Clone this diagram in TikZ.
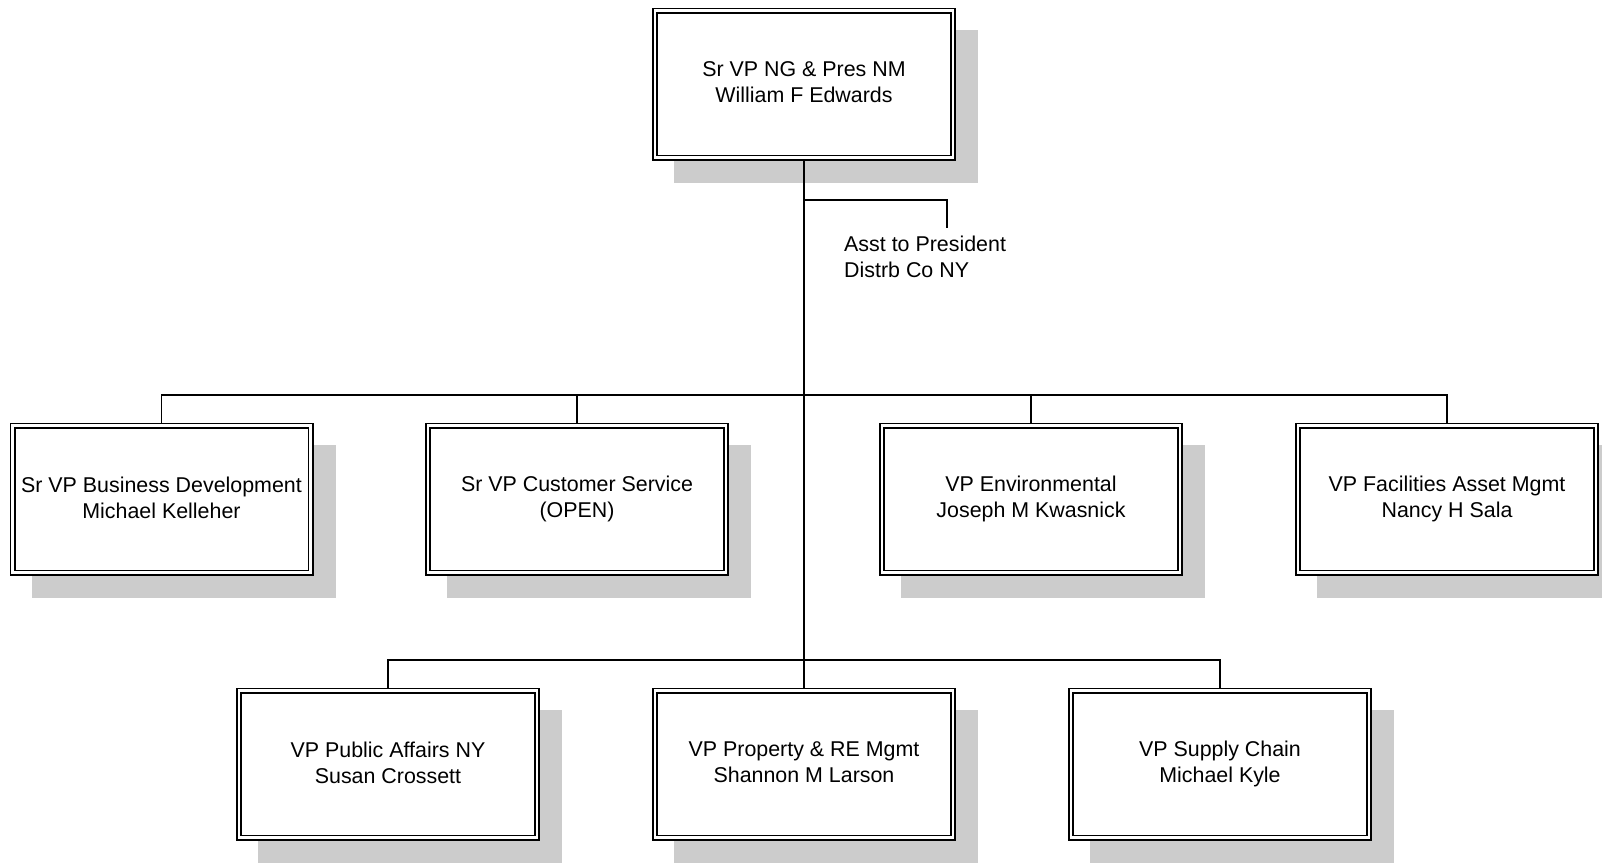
\documentclass[tikz,border=0pt]{standalone}
\usepackage{fontspec}
\setmainfont{Liberation Sans}
\usetikzlibrary{backgrounds}
\definecolor{shadowc}{RGB}{204,204,204}
\newcommand\boxshadow[2]{%
  \begin{pgfonlayer}{background}
  \fill[shadowc] ({#1-130},{#2-54.5}) rectangle ({#1+174},{#2+98.5});
  \end{pgfonlayer}}
\newcommand\topstrut{\rule{0pt}{23.5pt}}
\newcommand\botstrut{\rule[-3.1pt]{0pt}{3.1pt}}
\begin{document}
\begin{tikzpicture}[x=1pt,y=-1pt,
  obox/.style={draw, double, line width=1.6pt, double distance=2.8pt, fill=white,
    minimum width=298pt, minimum height=147pt, align=center, inner sep=0pt,
    font=\fontsize{21.4}{26}\selectfont,
    execute at begin node=\topstrut, execute at end node=\botstrut},
  conn/.style={line width=1.6pt},
  lbl/.style={align=left, inner sep=0pt, font=\fontsize{21.4}{26}\selectfont,
    execute at begin node=\strut, execute at end node=\strut}]
\clip (0,0) rectangle (1602,862);
% top
\boxshadow{804}{84}
\node[obox] (top) at (804,84) {Sr VP NG \& Pres NM\\William F Edwards};
% row 1
\boxshadow{161.5}{499}
\node[obox] (b1) at (161.5,499) {Sr VP Business Development\\Michael Kelleher};
\boxshadow{577}{499}
\node[obox] (b2) at (577,499) {Sr VP Customer Service\\(OPEN)};
\boxshadow{1031}{499}
\node[obox] (b3) at (1031,499) {VP Environmental\\Joseph M Kwasnick};
\boxshadow{1447}{499}
\node[obox] (b4) at (1447,499) {VP Facilities Asset Mgmt\\Nancy H Sala};
% row 2
\boxshadow{388}{764}
\node[obox] (c1) at (388,764) {VP Public Affairs NY\\Susan Crossett};
\boxshadow{804}{764}
\node[obox] (c2) at (804,764) {VP Property \& RE Mgmt\\Shannon M Larson};
\boxshadow{1220}{764}
\node[obox] (c3) at (1220,764) {VP Supply Chain\\Michael Kyle};
% assistant
\coordinate (asst) at (804,200);
\coordinate (asstend) at (947,228);
\node[lbl, anchor=north west] (asstlbl) at (844,236) {Asst to President\\Distrb Co NY};
% connectors
\coordinate (bus1) at (804,395);
\coordinate (bus2) at (804,660);
\begin{pgfonlayer}{background}
\draw[conn] (top.south) -- (c2.north);
\draw[conn] (asst) -| (asstend);
\draw[conn] (b1.north) |- (bus1) -| (b4.north);
\draw[conn] (b2.north) -- (b2.north |- bus1);
\draw[conn] (b3.north) -- (b3.north |- bus1);
\draw[conn] (c1.north) |- (bus2) -| (c3.north);
\end{pgfonlayer}
\end{tikzpicture}
\end{document}
